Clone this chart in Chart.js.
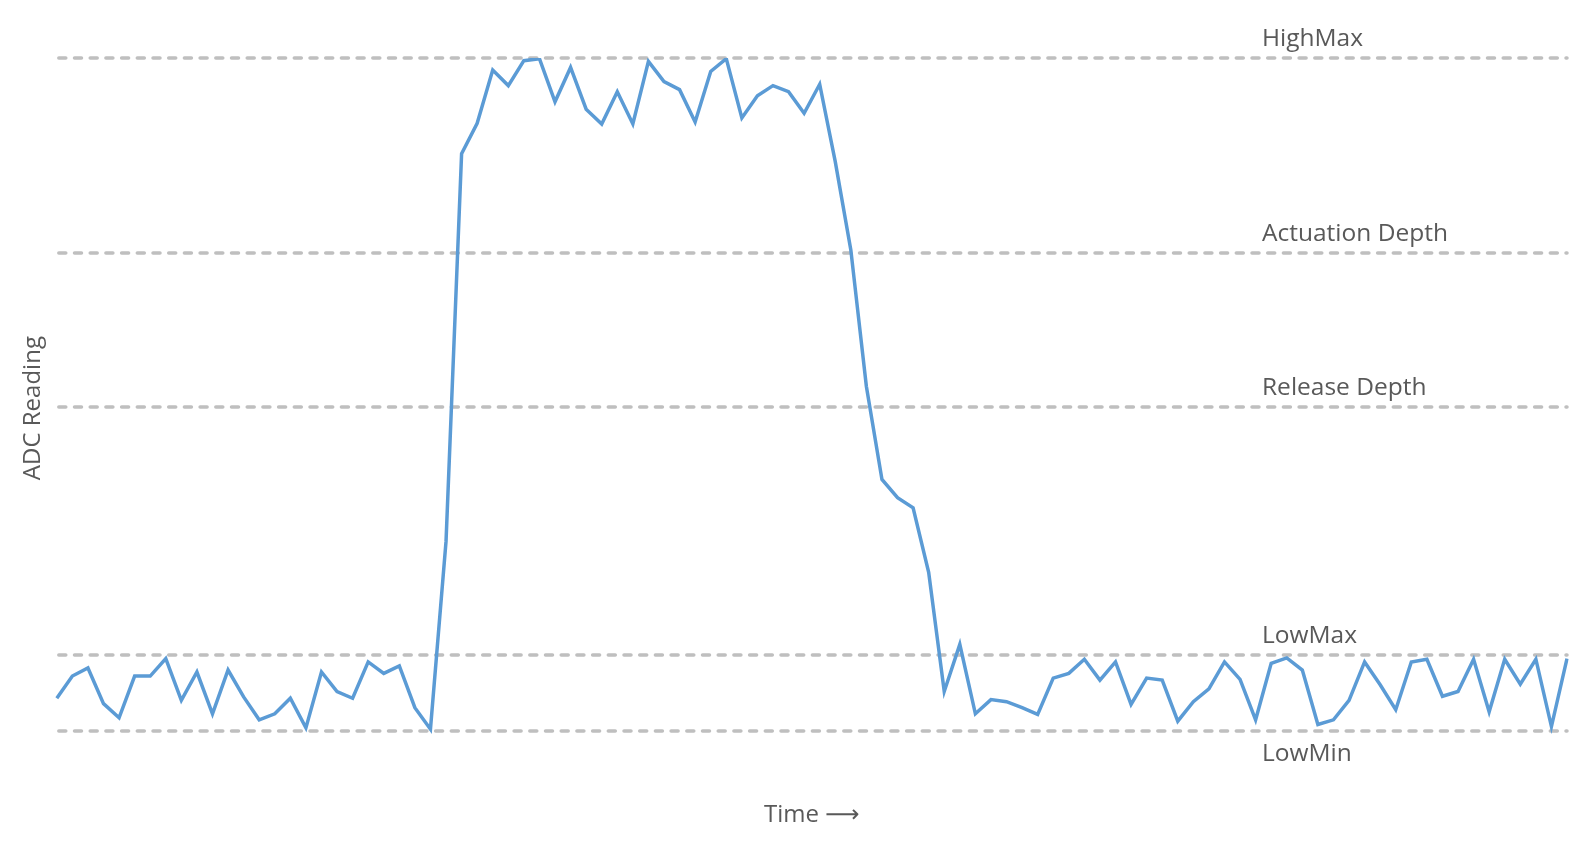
<!DOCTYPE html>
<html>
<head>
<meta charset="utf-8">
<script src="https://cdn.jsdelivr.net/npm/chart.js@4.4.1/dist/chart.umd.min.js"></script>
<style>
  html, body { margin: 0; padding: 0; background: #fff; }
</style>
</head>
<body>
<canvas id="adcChart" width="1592" height="848"></canvas>
<script>
// ADC samples (LowMin = 0, HighMax = 1000)
const samples = [
  49, 82, 94, 41, 20, 82, 82, 108, 46, 88,
  26, 91, 51, 17, 26, 49, 5, 88, 59, 49,
  103, 86, 97, 35, 3, 282, 858, 903, 982, 959,
  996, 999, 935, 986, 924, 902, 950, 902, 995, 965,
  953, 905, 980, 999, 911, 944, 959, 950, 918, 961,
  846, 715, 512, 374, 347, 332, 236, 59, 129, 26,
  47, 44, 35, 25, 79, 86, 107, 76, 103, 40,
  79, 76, 15, 44, 63, 103, 77, 17, 101, 109,
  91, 10, 17, 46, 103, 69, 32, 103, 107, 52,
  59, 107, 29, 107, 70, 107, 7, 108
];
const timeLabels = samples.map((v, i) => i);

const thresholdNames = ['HighMax', 'Actuation Depth', 'Release Depth', 'LowMax', 'LowMin'];
const thresholdValues = [1000, 710, 481, 113, 0];

const FONT = '"Open Sans", "DejaVu Sans", sans-serif';
const TEXT_COLOR = '#595959';

// dashed threshold lines with their names, drawn under the data line
const thresholdPlugin = {
  id: 'thresholds',
  beforeDatasetsDraw(chart) {
    const ctx = chart.ctx;
    const area = chart.chartArea;
    const y = chart.scales.y;
    ctx.save();
    ctx.strokeStyle = '#bfbfbf';
    ctx.lineWidth = 3.5;
    ctx.lineCap = 'round';
    ctx.setLineDash([7, 8.7]);
    thresholdValues.forEach(v => {
      const py = Math.round(y.getPixelForValue(v));
      ctx.beginPath();
      ctx.moveTo(area.left + 2, py);
      ctx.lineTo(area.right, py);
      ctx.stroke();
    });
    ctx.setLineDash([]);
    ctx.fillStyle = TEXT_COLOR;
    ctx.font = '24.5px ' + FONT;
    ctx.textAlign = 'left';
    ctx.textBaseline = 'alphabetic';
    const lx = area.right - 305;
    thresholdNames.forEach((name, i) => {
      const py = y.getPixelForValue(thresholdValues[i]);
      // the lowest line gets its label underneath
      const ty = i === thresholdNames.length - 1 ? py + 30 : py - 12;
      ctx.fillText(name, lx, ty);
    });
    ctx.restore();
  }
};

new Chart(document.getElementById('adcChart'), {
  type: 'line',
  data: {
    labels: timeLabels,
    datasets: [{
      label: 'ADC',
      data: samples,
      borderColor: '#5b9bd5',
      borderWidth: 3.5,
      pointRadius: 0,
      tension: 0,
      fill: false
    }]
  },
  options: {
    responsive: false,
    animation: false,
    layout: {
      padding: { top: 58, right: 25, bottom: 14, left: 15 }
    },
    plugins: {
      legend: { display: false },
      tooltip: { enabled: false }
    },
    scales: {
      x: {
        grid: { display: false, drawTicks: false },
        border: { display: false },
        ticks: { display: false },
        title: {
          display: true,
          text: 'Time ⟶',
          color: TEXT_COLOR,
          font: { family: FONT, size: 24 },
          padding: { top: 43, bottom: 4 }
        }
      },
      y: {
        min: -40,
        max: 1000,
        grid: { display: false, drawTicks: false },
        border: { display: false },
        ticks: { display: false },
        title: {
          display: true,
          text: 'ADC Reading',
          color: TEXT_COLOR,
          font: { family: FONT, size: 24 },
          padding: { top: 4, bottom: 9 }
        }
      }
    }
  },
  plugins: [thresholdPlugin]
});
</script>
</body>
</html>
